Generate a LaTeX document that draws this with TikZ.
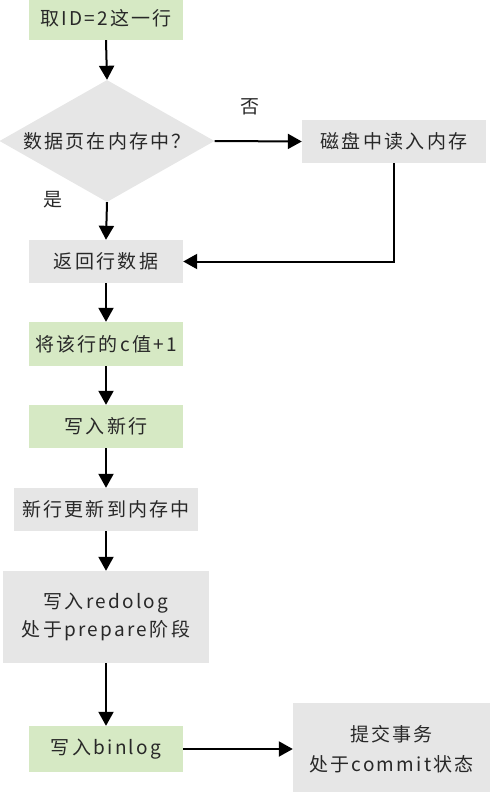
\documentclass[tikz,border=0pt]{standalone}
\usepackage{fontspec}
\setmainfont{Noto Sans CJK SC}[LetterSpace=12]
\usetikzlibrary{shapes.geometric,arrows.meta}
\definecolor{boxgreen}{RGB}{214,233,196}
\definecolor{boxgray}{RGB}{230,230,230}
\definecolor{txt}{RGB}{40,40,40}
\begin{document}
\begin{tikzpicture}[x=1pt,y=-1pt,
  every node/.style={font=\fontsize{19}{28}\selectfont, text=txt},
  gbox/.style={rectangle, fill=boxgreen, inner sep=0pt, align=center},
  ybox/.style={rectangle, fill=boxgray, inner sep=0pt, align=center},
  conn/.style={line width=2pt, -{Triangle[length=14pt,width=15pt]}},
  lbl/.style={inner sep=0pt}]
\useasboundingbox (0,0) rectangle (490,792);
\node[gbox, minimum width=154pt, minimum height=44pt] (n1) at (106,18) {取ID=2这一行};
\node[diamond, fill=boxgray, inner sep=0pt, minimum width=215pt, minimum height=122pt, aspect=1.76] (d) at (107,141) {数据页在内存中？};
\node[ybox, minimum width=184pt, minimum height=43pt] (n2) at (394,141.5) {磁盘中读入内存};
\node[ybox, minimum width=154pt, minimum height=43pt] (n3) at (106,261.5) {返回行数据};
\node[gbox, minimum width=154pt, minimum height=44pt] (n4) at (106,344) {将该行的c值+1};
\node[gbox, minimum width=154pt, minimum height=43pt] (n5) at (106,426.5) {写入新行};
\node[ybox, minimum width=184pt, minimum height=43pt] (n6) at (106,509.5) {新行更新到内存中};
\node[ybox, minimum width=206pt, minimum height=92pt] (n7) at (106,617) {写入redolog\\处于prepare阶段};
\node[gbox, minimum width=154pt, minimum height=46pt] (n8) at (106,749) {写入binlog};
\node[ybox, minimum width=197pt, minimum height=92pt, font=\fontsize{19}{30}\selectfont] (n9) at (391.5,749) {提交事务\\处于commit状态};
\node[lbl] (no) at (250,107) {否};
\node[lbl] (yes) at (53,200) {是};
\draw[conn] (n1.south) -- (d.north);
\draw[conn] (d.east) -- (n2.west);
\draw[conn] (d.south) -- (n3.north);
\draw[conn] (n2.south) |- (n3.east);
\draw[conn] (n3.south) -- (n4.north);
\draw[conn] (n4.south) -- (n5.north);
\draw[conn] (n5.south) -- (n6.north);
\draw[conn] (n6.south) -- (n7.north);
\draw[conn] (n7.south) -- (n8.north);
\draw[conn] (n8.east) -- (n9.west);
\end{tikzpicture}
\end{document}
